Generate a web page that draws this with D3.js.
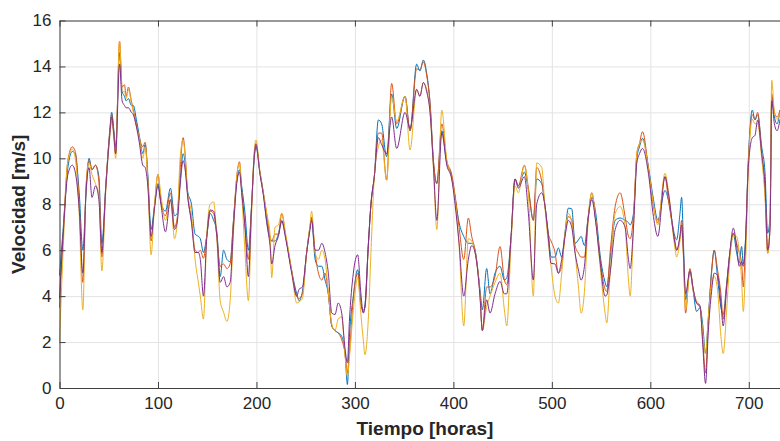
<!DOCTYPE html>
<html>
<head>
<meta charset="utf-8">
<script src="https://cdn.jsdelivr.net/npm/d3@7"></script>
<style>
  body { margin: 0; background: #fff; }
  text { font-family: "Liberation Sans", Arial, sans-serif; }
</style>
</head>
<body>
<div id="chart"></div>
<script>
// horas clave (picos y valles)
var hours = [0, 3.5, 8.5, 13, 16, 20, 23.7, 27, 30, 33, 36.5, 40, 43, 47, 51, 53, 55, 57, 61, 63.6,
  66, 67.7, 70, 73, 75, 78, 81, 84.6, 87, 89.7, 93, 96.4, 100, 103, 107.6, 112.7, 116.8, 119.5, 122.5, 125.5,
  127.6, 130, 134, 137.7, 141, 143, 146.2, 149.5, 153, 156.5, 159.8, 163.2, 166.6, 170, 173.3, 176.7, 180, 182.8, 185, 188.4,
  191.8, 195, 197.8, 199.5, 203.6, 207, 210.4, 213.8, 215.5, 218.9, 222.3, 225.7, 229.7, 235.8, 240.9, 243.3, 246.7, 251, 254.4, 256,
  259.6, 263, 266.4, 269.7, 273, 276.5, 279.8, 283, 286.6, 290, 292.4, 294.4, 298.4, 302.8, 306.1, 308.5, 310.2, 313.6, 316.3, 319.7,
  323.8, 327.1, 332.2, 337.3, 342.4, 350.9, 356, 362.7, 366, 369.5, 372.9, 376.3, 379.7, 383.2, 388.2, 393.3, 398.3, 401.7, 405.8, 410.5,
  415.2, 418.6, 422, 427, 429.4, 433.8, 437.2, 442.3, 447.4, 451.8, 454.2, 458.6, 462.6, 466, 472.1, 476.2, 481.2, 484.6, 489.7, 493.1,
  496.5, 499.2, 503.2, 506.6, 510, 513.4, 516.8, 520.2, 523.6, 527, 529.7, 533.1, 536.5, 540.6, 544.6, 549, 554.1, 555.8, 559.2, 564.3,
  569.4, 574.4, 577.8, 579.5, 582.9, 586.3, 589, 592.1, 598.2, 603.2, 607.6, 614.9, 618.3, 625, 626.7, 630.1, 631.8, 633.5, 635.8, 640.2,
  643.6, 647, 650.4, 653.1, 656.1, 658.8, 662.2, 664.9, 668.3, 671.7, 674, 677.4, 680.8, 684.2, 687.6, 690.3, 692.7, 694.4, 696.8, 699.5,
  703.6, 706.3, 709, 713.1, 716.5, 719.2, 721.6, 723.3, 726, 728.7, 731.7]

var serieAzul = [4.9, 6.8, 9.6, 10.3, 10.2, 8.5, 6.0, 8.5, 10.0, 9.5, 9.7, 9.2, 6.3, 8.8, 11.2, 12.0, 11.3, 10.5, 14.6, 12.9,
  12.7, 12.5, 12.6, 12.3, 12.3, 11.7, 11.0, 10.2, 10.6, 9.3, 6.9, 7.9, 8.9, 8.1, 7.7, 8.7, 7.5, 7.6, 9.0, 10.2,
  9.8, 8.6, 8.0, 6.7, 6.6, 6.5, 5.9, 6.6, 7.6, 7.3, 6.8, 4.85, 6.0, 5.6, 5.5, 7.3, 9.0, 9.5, 8.8, 7.6,
  6.0, 7.9, 10.0, 10.5, 9.4, 8.5, 7.3, 6.5, 6.4, 6.4, 6.7, 7.3, 6.6, 5.1, 4.1, 3.8, 4.2, 5.9, 7.0, 7.4,
  5.6, 5.3, 5.3, 4.7, 4.1, 2.7, 2.5, 2.4, 2.25, 1.5, 0.15, 2.2, 4.0, 5.15, 3.7, 3.3, 3.6, 6.2, 8.0, 9.2,
  11.67, 11.5, 10.07, 12.8, 11.3, 12.7, 11.2, 14.1, 13.8, 14.28, 13.7, 12.4, 9.9, 8.9, 11.2, 9.8, 9.2, 8.3, 7.2, 6.6,
  6.3, 6.3, 6.0, 4.3, 3.4, 5.2, 4.1, 5.0, 5.3, 4.7, 4.8, 6.6, 9.1, 8.8, 9.4, 8.6, 7.3, 9.1, 8.9, 7.9,
  6.7, 5.7, 5.7, 6.1, 5.7, 6.8, 7.83, 7.8, 6.3, 6.45, 6.6, 6.2, 7.3, 8.3, 7.6, 5.8, 4.6, 4.4, 5.6, 7.3,
  7.4, 7.3, 7.2, 7.1, 7.6, 10.0, 10.5, 10.87, 9.6, 8.2, 7.3, 8.6, 8.2, 6.6, 6.45, 7.6, 8.3, 6.5, 3.84, 5.1,
  4.2, 3.33, 3.5, 2.8, 1.5, 3.0, 5.1, 6.0, 4.8, 3.5, 3.2, 4.5, 5.9, 6.74, 5.9, 5.43, 6.16, 5.4, 6.6, 9.9,
  12.1, 11.67, 11.9, 10.5, 9.35, 6.74, 7.5, 12.7, 11.8, 11.5, 12.1]

var serieRoja = [3.5, 6.5, 9.9, 10.5, 10.3, 8.0, 4.6, 8.8, 9.9, 9.5, 9.7, 9.0, 5.7, 8.8, 11.1, 11.9, 11.2, 10.2, 15.1, 13.1,
  13.2, 12.7, 13.1, 12.5, 12.1, 11.5, 10.9, 10.5, 10.7, 9.1, 6.4, 7.9, 9.3, 8.1, 7.5, 8.5, 7.0, 7.4, 9.5, 10.9,
  10.2, 8.5, 7.3, 6.0, 5.9, 6.0, 5.65, 6.6, 7.7, 7.6, 6.6, 5.3, 5.4, 5.2, 5.4, 7.3, 9.2, 9.85, 8.6, 7.0,
  5.6, 7.9, 10.2, 10.65, 9.35, 8.5, 7.6, 6.6, 6.4, 6.7, 6.7, 7.6, 6.6, 5.1, 4.0, 3.9, 4.1, 5.9, 7.0, 7.45,
  5.9, 5.0, 4.7, 5.0, 4.1, 2.7, 2.5, 2.4, 2.1, 1.5, 0.65, 1.5, 3.9, 5.0, 3.6, 3.4, 3.5, 6.2, 8.0, 9.2,
  11.1, 11.1, 9.05, 13.26, 11.5, 12.7, 11.2, 13.9, 13.84, 14.2, 13.6, 12.4, 9.9, 8.9, 11.5, 9.9, 9.3, 8.4, 7.0, 5.6,
  7.4, 6.6, 6.0, 4.1, 2.5, 4.4, 4.4, 4.86, 6.16, 4.7, 4.5, 6.6, 9.1, 8.8, 9.7, 8.7, 7.3, 9.6, 9.0, 7.9,
  6.7, 6.4, 5.9, 5.0, 5.3, 6.7, 7.46, 7.3, 6.2, 5.87, 5.7, 5.7, 7.3, 8.5, 7.3, 5.6, 4.3, 4.2, 5.9, 7.9,
  8.5, 7.46, 6.6, 6.5, 7.5, 10.2, 10.65, 11.16, 9.5, 7.9, 7.2, 9.2, 8.2, 6.4, 6.0, 6.6, 7.3, 6.0, 3.26, 5.2,
  4.3, 3.7, 3.5, 2.2, 0.65, 2.8, 5.0, 6.0, 5.14, 4.1, 3.0, 4.4, 5.9, 6.74, 6.3, 5.9, 5.43, 4.4, 6.5, 9.8,
  11.9, 11.67, 12.0, 10.2, 8.5, 5.87, 7.0, 12.8, 12.0, 11.8, 12.1]

var serieAmarilla = [2.0, 5.8, 9.9, 10.4, 10.0, 7.6, 3.4, 8.8, 9.8, 9.3, 8.9, 8.4, 5.1, 8.6, 10.9, 11.6, 11.0, 10.0, 15.1, 12.9,
  12.9, 12.6, 13.0, 12.4, 12.0, 11.4, 10.9, 10.0, 10.5, 9.0, 5.8, 7.9, 9.3, 8.4, 7.3, 8.2, 6.5, 7.2, 10.0, 10.8,
  10.1, 8.5, 7.6, 5.6, 4.6, 4.0, 3.0, 6.6, 8.0, 8.1, 6.5, 3.8, 3.3, 2.9, 3.8, 6.8, 9.2, 9.8, 8.5, 5.9,
  3.8, 7.5, 10.3, 10.8, 9.4, 8.5, 7.6, 6.7, 4.8, 7.0, 7.1, 7.6, 6.7, 5.1, 3.7, 3.75, 3.9, 5.9, 7.1, 7.7,
  5.9, 5.6, 6.0, 5.6, 4.2, 2.8, 2.5, 3.0, 3.1, 1.4, 0.5, 1.3, 3.4, 4.8, 3.2, 2.1, 1.45, 3.0, 5.9, 9.2,
  10.5, 10.8, 9.05, 12.7, 11.6, 12.7, 10.36, 13.0, 12.7, 13.3, 13.0, 12.0, 9.6, 6.9, 12.1, 9.9, 9.1, 8.2, 6.2, 2.7,
  6.5, 6.4, 5.9, 4.1, 2.5, 3.55, 4.0, 4.6, 5.0, 3.4, 2.7, 6.3, 8.8, 8.5, 9.7, 8.4, 4.0, 9.8, 9.6, 7.8,
  6.3, 5.3, 4.0, 3.7, 5.0, 6.7, 7.6, 7.2, 5.9, 4.4, 3.26, 4.2, 7.0, 8.5, 7.3, 5.3, 3.26, 2.83, 5.0, 7.6,
  7.9, 7.0, 4.7, 4.0, 7.0, 10.2, 10.65, 10.8, 9.5, 8.0, 7.1, 9.35, 8.6, 6.1, 5.7, 6.4, 6.9, 5.8, 3.4, 5.1,
  4.2, 3.8, 3.55, 2.5, 1.5, 3.0, 4.5, 4.86, 4.27, 2.25, 1.5, 3.3, 5.6, 6.6, 6.6, 5.9, 4.7, 3.33, 5.5, 9.5,
  11.7, 11.5, 11.5, 10.0, 8.3, 5.87, 7.5, 13.4, 12.0, 11.7, 12.0]

var serieMorada = [3.9, 6.5, 9.3, 9.7, 9.4, 7.8, 5.0, 8.6, 9.6, 8.3, 8.8, 8.2, 5.9, 8.7, 11.0, 11.8, 11.1, 10.2, 14.1, 12.5,
  12.3, 12.2, 12.2, 12.0, 11.9, 11.4, 10.7, 9.7, 9.6, 8.8, 6.6, 7.8, 8.8, 8.0, 6.8, 8.2, 6.9, 7.2, 8.8, 9.9,
  9.5, 8.4, 7.2, 5.9, 5.9, 5.6, 4.0, 6.5, 7.75, 7.7, 6.6, 4.6, 4.85, 4.4, 4.6, 7.0, 8.9, 9.4, 8.5, 7.0,
  4.85, 7.8, 10.1, 10.6, 9.3, 8.4, 7.2, 6.2, 5.4, 6.2, 6.6, 7.25, 6.5, 5.0, 4.0, 4.3, 4.4, 5.9, 6.9, 7.3,
  6.0, 6.0, 6.3, 5.9, 5.0, 3.26, 3.2, 3.7, 3.26, 1.7, 1.1, 2.9, 5.0, 5.8, 4.1, 3.26, 3.55, 6.2, 8.0, 9.2,
  10.9, 10.6, 10.2, 11.8, 10.43, 12.0, 11.3, 13.0, 12.7, 13.3, 12.9, 12.0, 9.7, 7.3, 11.1, 9.7, 9.1, 8.0, 6.3, 4.0,
  5.6, 6.2, 5.9, 4.0, 2.5, 3.84, 3.26, 4.1, 4.64, 4.1, 4.1, 6.6, 9.1, 8.7, 9.2, 7.6, 4.7, 8.0, 8.5, 7.9,
  6.5, 5.43, 5.4, 5.0, 5.6, 6.6, 7.3, 7.0, 5.87, 5.14, 4.7, 5.3, 7.2, 8.2, 7.2, 5.5, 4.0, 4.05, 5.0, 6.9,
  7.3, 7.0, 5.6, 5.2, 7.0, 9.8, 10.2, 10.43, 9.3, 7.46, 6.6, 9.2, 8.5, 6.3, 6.0, 6.6, 7.1, 6.0, 4.1, 5.1,
  4.3, 3.7, 3.6, 2.0, 0.2, 2.4, 4.2, 5.0, 4.9, 3.7, 2.7, 4.3, 5.9, 6.96, 6.2, 5.3, 5.5, 5.3, 6.4, 9.6,
  10.9, 11.0, 11.67, 10.2, 8.8, 6.0, 7.0, 12.5, 11.5, 11.2, 11.7]

var xTicks = [0, 100, 200, 300, 400, 500, 600, 700]
var yTicks = [0, 2, 4, 6, 8, 10, 12, 14, 16]

var series = [
  { name: 'azul', values: serieAzul, color: '#0072BD' },
  { name: 'roja', values: serieRoja, color: '#D95319' },
  { name: 'amarilla', values: serieAmarilla, color: '#EDB120' },
  { name: 'morada', values: serieMorada, color: '#7E2F8E' }
]

var margin = { top: 20.5, left: 59.5, right: 0, bottom: 53 }
var width = 780 - margin.left - margin.right
var height = 441 - margin.top - margin.bottom

var svg = d3
  .select('#chart')
  .append('svg')
  .attr('width', 780)
  .attr('height', 441)

var g = svg.append('g')
  .attr('transform', 'translate(' + margin.left + ',' + margin.top + ')')

// 700 h cae en x=748 aprox, el eje sigue más allá del borde
var xScale = d3.scaleLinear().domain([0, width / 0.9847]).range([0, width])
var yScale = d3.scaleLinear().domain([0, 16]).range([height, 0])

// rejilla
g.append('g')
  .attr('class', 'grid')
  .attr('transform', 'translate(0,' + height + ')')
  .call(d3.axisBottom(xScale).tickValues(xTicks).tickSize(-height).tickFormat(''))
g.append('g')
  .attr('class', 'grid')
  .call(d3.axisLeft(yScale).tickValues(yTicks).tickSize(-width).tickFormat(''))
g.selectAll('.grid .domain').remove()
g.selectAll('.grid line').attr('stroke', '#e3e3e3').attr('stroke-width', 1)

// líneas
var line = d3.line()
  .x((d, i) => xScale(hours[i]))
  .y(d => yScale(d))
  .curve(d3.curveMonotoneX)

g.selectAll('.serie')
  .data(series)
  .enter()
  .append('path')
  .attr('class', 'serie')
  .attr('d', d => line(d.values))
  .attr('fill', 'none')
  .attr('stroke', d => d.color)
  .attr('stroke-width', 1)
  .attr('stroke-linejoin', 'round')

// ejes
var xAxis = g.append('g')
  .attr('transform', 'translate(0,' + height + ')')
  .call(d3.axisBottom(xScale).tickValues(xTicks).tickSize(-6).tickPadding(9).tickSizeOuter(0))
var yAxis = g.append('g')
  .call(d3.axisLeft(yScale).tickValues(yTicks).tickSize(-6).tickPadding(8).tickSizeOuter(0))
var topAxis = g.append('g')
  .call(d3.axisTop(xScale).tickValues(xTicks).tickSize(-6).tickFormat('').tickSizeOuter(0))

;[xAxis, yAxis, topAxis].forEach(function(a) {
  a.select('.domain').attr('stroke', '#404040')
  a.selectAll('line').attr('stroke', '#404040')
  a.selectAll('text')
    .attr('fill', '#262626')
    .style('font-size', '17px')
    .style('font-family', '"Liberation Sans", Arial, sans-serif')
})

// títulos
svg.append('text')
  .attr('x', 425)
  .attr('y', 435)
  .attr('text-anchor', 'middle')
  .attr('fill', '#262626')
  .style('font-size', '19px')
  .style('font-weight', 'bold')
  .text('Tiempo [horas]')

svg.append('text')
  .attr('transform', 'translate(25,' + (margin.top + height / 2) + ') rotate(-90)')
  .attr('text-anchor', 'middle')
  .attr('fill', '#262626')
  .style('font-size', '19px')
  .style('font-weight', 'bold')
  .text('Velocidad [m/s]')
</script>
</body>
</html>
